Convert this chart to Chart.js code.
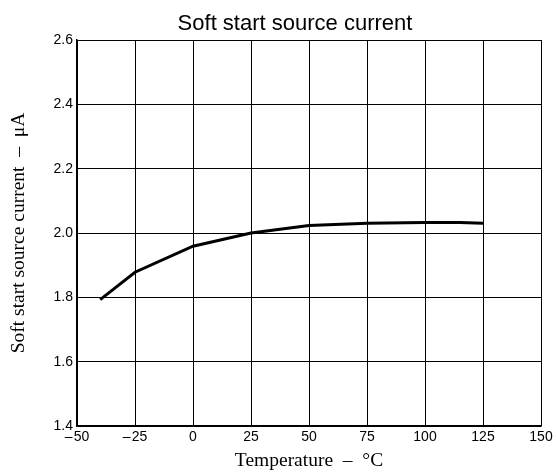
<!DOCTYPE html>
<html>
<head>
<meta charset="utf-8">
<script src="https://cdn.jsdelivr.net/npm/chart.js@4/dist/chart.umd.min.js"></script>
<style>
html,body{margin:0;padding:0;background:#fff;}
#wrap{width:556px;height:473px;position:relative;}
</style>
</head>
<body>
<div id="wrap"><canvas id="c" width="556" height="473"></canvas></div>
<script>
const temperatures = [-40, -25, 0, 25, 50, 75, 100, 115, 125];
const currents = [1.793, 1.878, 1.959, 2.0, 2.023, 2.030, 2.033, 2.033, 2.030];
const xTicks = [-50, -25, 0, 25, 50, 75, 100, 125, 150];
const yTicks = [1.4, 1.6, 1.8, 2.0, 2.2, 2.4, 2.6];
const chartTitle = 'Soft start source current';
const xTitle = 'Temperature  \u2013  \u00B0C';
const yTitle = 'Soft start source current  \u2013  \u03BCA';

const titlePlugin = {
  id: 'customTitle',
  afterDraw(chart) {
    const ctx = chart.ctx;
    ctx.save();
    ctx.font = '22px "Liberation Sans", Arial, sans-serif';
    ctx.fillStyle = '#000';
    ctx.textAlign = 'center';
    ctx.textBaseline = 'alphabetic';
    ctx.fillText(chartTitle, 295, 30);
    ctx.restore();
  }
};

new Chart(document.getElementById('c'), {
  type: 'line',
  data: {
    datasets: [{
      data: temperatures.map((t, i) => ({x: t, y: currents[i]})),
      borderColor: '#000',
      borderWidth: 3,
      pointRadius: 0,
      tension: 0,
      fill: false
    }]
  },
  options: {
    responsive: false,
    animation: false,
    layout: { padding: { left: 0, right: 15, top: 40, bottom: 0 } },
    plugins: { legend: { display: false }, tooltip: { enabled: false } },
    scales: {
      x: {
        type: 'linear',
        min: -50, max: 150,
        afterBuildTicks: (s) => { s.ticks = xTicks.map(v => ({value: v})); },
        afterFit: (s) => { s.height = 47; },
        grid: { color: '#000', lineWidth: 1, drawTicks: false },
        border: { color: '#000', width: 1.5 },
        ticks: {
          padding: 3,
          color: '#000',
          font: { family: '"Liberation Sans", Arial, sans-serif', size: 14 },
          callback: (v) => (v < 0 ? '\u2013\u200A' + Math.abs(v) : String(v))
        },
        title: {
          display: true, text: xTitle, color: '#000',
          font: { family: '"Liberation Serif", "Times New Roman", serif', size: 19.5 },
          padding: { top: 0, bottom: 0 }
        }
      },
      y: {
        type: 'linear',
        min: 1.4, max: 2.6,
        afterBuildTicks: (s) => { s.ticks = yTicks.map(v => ({value: v})); },
        afterFit: (s) => { s.width = 77; },
        grid: { color: '#000', lineWidth: 1, drawTicks: false },
        border: { color: '#000', width: 1.5 },
        ticks: {
          padding: 4,
          color: '#000',
          font: { family: '"Liberation Sans", Arial, sans-serif', size: 14 },
          callback: (v) => v.toFixed(1)
        },
        title: {
          display: true, text: yTitle, color: '#000',
          font: { family: '"Liberation Serif", "Times New Roman", serif', size: 19.5 },
          padding: { top: 7, bottom: 0 }
        }
      }
    }
  },
  plugins: [titlePlugin]
});
</script>
</body>
</html>
